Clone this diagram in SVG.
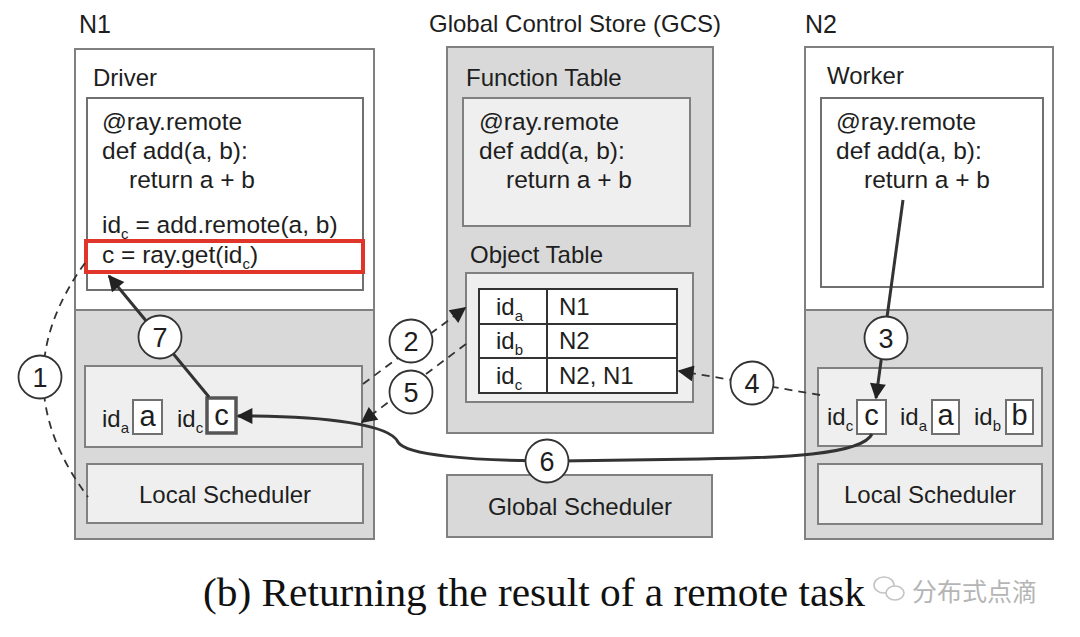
<svg xmlns="http://www.w3.org/2000/svg" width="1080" height="637" viewBox="0 0 1080 637">
<defs>
<style>
text{font-family:"Liberation Sans",Arial,sans-serif;fill:#1e1e1e;font-size:24px}
.big{font-size:25px}
.code{font-size:24.5px}
.sub{font-size:15px}
.box{font-size:29px}
.num{font-size:27px;text-anchor:middle}
.outer{fill:#fff;stroke:#808080;stroke-width:2}
.gray{fill:#d9d9d9;stroke:#808080;stroke-width:2}
.light{fill:#efefef;stroke:#808080;stroke-width:2}
.white{fill:#fff;stroke:#707070;stroke-width:2}
.tbl{fill:#fff;stroke:#333;stroke-width:2}
.solid{fill:none;stroke:#333;stroke-width:3}
.dash{fill:none;stroke:#333;stroke-width:1.8;stroke-dasharray:8 6}
.circ{fill:#fff;stroke:#333;stroke-width:1.8}
</style>
<marker id="arr" viewBox="0 0 10 10" refX="9" refY="5" markerWidth="18" markerHeight="16" markerUnits="userSpaceOnUse" orient="auto">
<path d="M0,0 L10,5 L0,10 z" fill="#222"/>
</marker>
</defs>
<rect width="1080" height="637" fill="#fff"/>

<g id="n1">
<text x="79" y="33" class="big">N1</text>
<rect x="75" y="49" width="299" height="490" class="outer"/>
<rect x="75" y="310" width="299" height="229" class="gray"/>
<text x="93" y="86">Driver</text>
<rect x="87" y="98" width="276" height="192" class="white"/>
<text x="102" y="130" class="code">@ray.remote</text>
<text x="102" y="159" class="code">def add(a, b):</text>
<text x="129" y="188" class="code">return a + b</text>
<text x="102" y="233" class="code">id<tspan dy="6" class="sub">c</tspan><tspan dy="-6"> = add.remote(a, b)</tspan></text>
<text x="102" y="263" class="code">c = ray.get(id<tspan dy="6" class="sub">c</tspan><tspan dy="-6">)</tspan></text>
<rect x="86" y="241" width="277" height="31" fill="none" stroke="#e0352b" stroke-width="4"/>
<rect x="85" y="366" width="277" height="81" class="light"/>
<text x="102" y="427">id<tspan dy="6" class="sub">a</tspan></text>
<rect x="133" y="400" width="29" height="34" class="white"/>
<text x="147.5" y="426" class="box" text-anchor="middle">a</text>
<text x="177" y="427">id<tspan dy="6" class="sub">c</tspan></text>
<rect x="207" y="398" width="29" height="35" fill="#fff" stroke="#555" stroke-width="3.5"/>
<text x="221.5" y="425" class="box" text-anchor="middle">c</text>
<rect x="87" y="464" width="276" height="59" class="light"/>
<text x="225" y="503" text-anchor="middle">Local Scheduler</text>
</g>

<g id="gcs">
<text x="429" y="32">Global Control Store (GCS)</text>
<rect x="447" y="47" width="266" height="386" class="gray"/>
<text x="466" y="86">Function Table</text>
<rect x="463" y="98" width="227" height="128" class="light"/>
<text x="479" y="130" class="code">@ray.remote</text>
<text x="479" y="159" class="code">def add(a, b):</text>
<text x="506" y="188" class="code">return a + b</text>
<text x="470" y="263">Object Table</text>
<rect x="466" y="273" width="227" height="129" class="light"/>
<rect x="479" y="289" width="198" height="104" class="tbl"/>
<line x1="479" y1="324" x2="677" y2="324" stroke="#333" stroke-width="2"/>
<line x1="479" y1="358" x2="677" y2="358" stroke="#333" stroke-width="2"/>
<line x1="547" y1="289" x2="547" y2="393" stroke="#333" stroke-width="2"/>
<text x="496" y="315">id<tspan dy="6" class="sub">a</tspan></text>
<text x="559" y="315">N1</text>
<text x="496" y="349">id<tspan dy="6" class="sub">b</tspan></text>
<text x="559" y="349">N2</text>
<text x="496" y="384">id<tspan dy="6" class="sub">c</tspan></text>
<text x="559" y="384">N2, N1</text>
</g>

<g id="global-scheduler">
<rect x="447" y="475" width="265" height="62" class="gray"/>
<text x="580" y="515" text-anchor="middle">Global Scheduler</text>
</g>

<g id="n2">
<text x="805" y="33" class="big">N2</text>
<rect x="805" y="47" width="248" height="492" class="outer"/>
<rect x="805" y="310" width="248" height="229" class="gray"/>
<text x="827" y="84">Worker</text>
<rect x="821" y="98" width="222" height="189" class="white"/>
<text x="836" y="130" class="code">@ray.remote</text>
<text x="836" y="159" class="code">def add(a, b):</text>
<text x="864" y="188" class="code">return a + b</text>
<rect x="818" y="368" width="224" height="78" class="light"/>
<text x="827" y="425">id<tspan dy="6" class="sub">c</tspan></text>
<rect x="857" y="400" width="29" height="34" class="white"/>
<text x="871.5" y="425" class="box" text-anchor="middle">c</text>
<text x="900" y="425">id<tspan dy="6" class="sub">a</tspan></text>
<rect x="932" y="400" width="27" height="34" class="white"/>
<text x="945.5" y="425" class="box" text-anchor="middle">a</text>
<text x="974" y="425">id<tspan dy="6" class="sub">b</tspan></text>
<rect x="1006" y="400" width="27" height="34" class="white"/>
<text x="1019.5" y="425" class="box" text-anchor="middle">b</text>
<rect x="818" y="464" width="224" height="60" class="light"/>
<text x="930" y="503" text-anchor="middle">Local Scheduler</text>
</g>

<g id="connectors">
<path d="M85 263 Q0 380 88 497" class="dash"/>
<path d="M209 397 L109 276" class="solid" marker-end="url(#arr)"/>
<path d="M363 384 L465 308" class="dash" marker-end="url(#arr)"/>
<path d="M466 344 L362 422" class="dash" marker-end="url(#arr)"/>
<path d="M820 395 L679 371" class="dash" marker-end="url(#arr)"/>
<path d="M903 200 L876 398" class="solid" marker-end="url(#arr)"/>
<path d="M872 434 C862 455 780 458 700 459 L560 461 C470 461 405 455 398 442 C390 425 330 416 238 416" class="solid" marker-end="url(#arr)"/>
<circle cx="40" cy="377" r="21.5" class="circ"/><text x="40" y="387" class="num">1</text>
<circle cx="411" cy="341" r="21.5" class="circ"/><text x="411" y="351" class="num">2</text>
<circle cx="886" cy="338" r="21.5" class="circ"/><text x="886" y="348" class="num">3</text>
<circle cx="752" cy="383" r="21.5" class="circ"/><text x="752" y="393" class="num">4</text>
<circle cx="411" cy="392" r="21.5" class="circ"/><text x="411" y="402" class="num">5</text>
<circle cx="547" cy="461" r="21.5" class="circ"/><text x="547" y="471" class="num">6</text>
<circle cx="160" cy="337" r="21.5" class="circ"/><text x="160" y="347" class="num">7</text>
</g>

<g id="caption">
<text x="203" y="606" textLength="662" lengthAdjust="spacingAndGlyphs" style="font-family:'Liberation Serif','Times New Roman',serif;font-size:40px;fill:#111">(b) Returning the result of a remote task</text>
<g fill="none" stroke="#c4c4c4" stroke-width="1.6">
<ellipse cx="884" cy="585" rx="10" ry="8"/>
<ellipse cx="895" cy="593" rx="9" ry="7" fill="#fff"/>
</g>
<text x="912" y="601" style="font-family:'Noto Sans CJK SC',sans-serif;font-size:25px;fill:#b5b5b5">分布式点滴</text>
</g>
</svg>
